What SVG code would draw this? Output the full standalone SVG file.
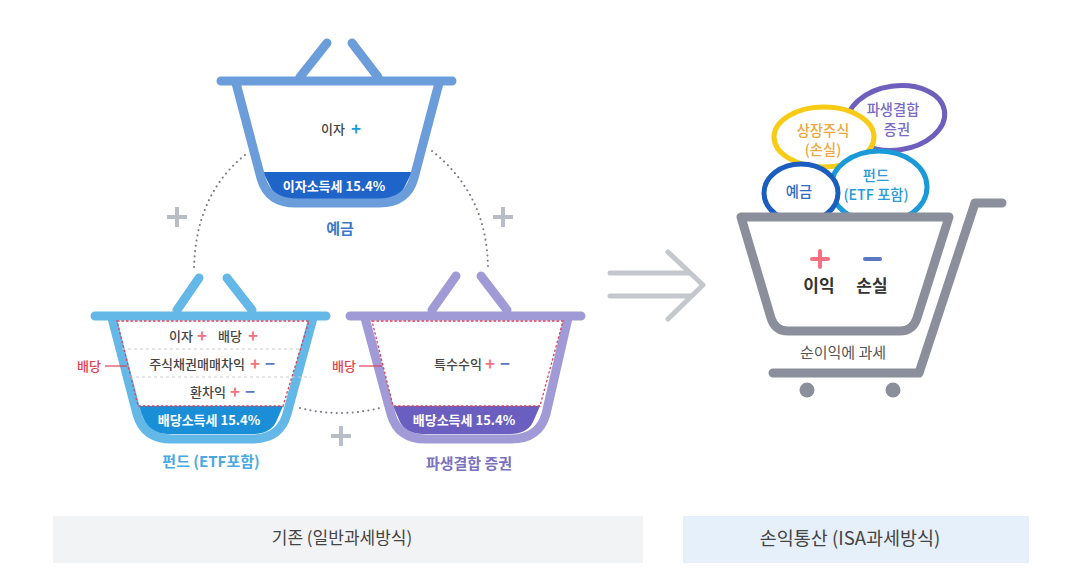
<svg xmlns="http://www.w3.org/2000/svg" width="1080" height="578" viewBox="0 0 1080 578">
<style>
text{font-family:"Noto Sans CJK KR","Noto Sans",sans-serif;text-anchor:middle}
.t{font-size:13px;fill:#444;font-weight:500}
.w{font-size:13px;fill:#fff;font-weight:700}
.r{font-size:13px;fill:#e8404f;font-weight:500}
.p{fill:#f4727f;font-weight:700;font-size:17px}
.m{fill:#5b78c4;font-weight:700;font-size:17px}
.b{fill:none;stroke-width:9;stroke-linecap:round;stroke-linejoin:round}
.red{fill:none;stroke:#e0405a;stroke-width:1.3;stroke-dasharray:2.5 2}
.gd{stroke:#c9ccd0;stroke-width:1;stroke-dasharray:3 3}
.dot{fill:none;stroke:#777c85;stroke-width:2;stroke-linecap:round;stroke-dasharray:0.1 5.2}
.plus{stroke:#b9bdc5;stroke-width:4;fill:none}
.lab{font-size:15px;font-weight:700}
.bar{font-size:17px;fill:#444}
.e{fill:#fff;stroke-width:5}
.cl{font-size:14.3px;font-weight:500}
</style>
<rect x="0" y="0" width="1080" height="578" fill="#fff"/>
<g id="connectors">
<path class="dot" d="M245 155Q195 195 194 270"/>
<path class="dot" d="M432 151Q488 195 488 270"/>
<path class="dot" d="M300 408Q340 418 380 408"/>
<path class="plus" d="M167 217H187M177 207V227M493 217H513M503 207V227M331 436H351M341 426V446"/>
<path d="M610 273H690M610 296H690M668 252L703 285L668 319" fill="none" stroke="#c4c7cc" stroke-width="5" stroke-linecap="round" stroke-linejoin="round"/>
</g>
<g id="basket-deposit">
<path d="M263 172H412L404 188Q398 199 382 199H293Q277 199 271 188Z" fill="#1f64c8"/>
<path class="b" stroke="#6b9ddb" d="M221 81H452M300 77L327 43M352 43L378 77M236 83L261 178Q268 203 296 203H379Q407 203 414 178L439 83"/>
<text class="t" x="333" y="134">이자</text><text x="356" y="135" class="p" style="fill:#1a9ad8">+</text>
<text class="w" x="334" y="191">이자소득세 15.4%</text>
<text class="lab" x="340" y="234" fill="#3b78cc">예금</text>
</g>
<g id="basket-fund">
<path d="M138 406H283L276 422Q270 434 253 434H168Q151 434 145 422Z" fill="#1a8fd8"/>
<path class="b" stroke="#63b8e8" d="M95 316H326M177 310L199 278M227 278L252 310M112 318L137 414Q144 439 172 439H252Q280 439 287 414L313 318"/>
<path class="red" d="M117 321H309L283 406H138Z"/>
<path class="gd" d="M122 349H300M130 377H311"/>
<path d="M105 366H127" stroke="#e0405a" stroke-width="1.2"/>
<text class="r" x="89" y="371">배당</text>
<text class="t" x="181" y="341">이자</text><text class="p" x="202" y="342">+</text>
<text class="t" x="230" y="341">배당</text><text class="p" x="253" y="342">+</text>
<text class="t" x="197" y="369">주식채권매매차익</text><text x="255" y="370" class="p">+</text><text x="270" y="370" class="m">−</text>
<text class="t" x="208" y="397">환차익</text><text x="235" y="398" class="p">+</text><text x="250" y="398" class="m">−</text>
<text class="w" x="209" y="425">배당소득세 15.4%</text>
<text class="lab" x="211" y="467" fill="#4aa9e0">펀드 (ETF포함)</text>
</g>
<g id="basket-derivative">
<path d="M393 406H540L533 422Q527 434 510 434H423Q406 434 400 422Z" fill="#6a5fc0"/>
<path class="b" stroke="#a09bd6" d="M350 316H581M432 310L456 276M481 276L507 310M365 318L391 414Q398 439 426 439H511Q539 439 546 414L568 318"/>
<path class="red" d="M372 321H563L540 406H393Z"/>
<path d="M359 366H382" stroke="#e0405a" stroke-width="1.2"/>
<text class="r" x="344" y="371">배당</text>
<text class="t" x="458" y="369">특수수익</text><text class="p" x="490" y="370">+</text><text class="m" x="505" y="370">−</text>
<text class="w" x="464" y="425">배당소득세 15.4%</text>
<text class="lab" x="469" y="469" fill="#7a72c0">파생결합 증권</text>
</g>
<g id="cart">
<ellipse class="e" cx="896" cy="118" rx="49" ry="32" transform="rotate(-8 896 118)" stroke="#6f5fbc"/>
<text class="cl" x="893" y="115" fill="#7a6cc4">파생결합</text><text class="cl" x="897" y="135" fill="#7a6cc4">증권</text>
<ellipse class="e" cx="824" cy="137" rx="50" ry="30" stroke="#f7cb16"/>
<text class="cl" x="823" y="136" fill="#f0a63a">상장주식</text><text class="cl" x="823" y="155" fill="#f0a63a">(손실)</text>
<ellipse class="e" cx="879" cy="187" rx="48" ry="36" stroke="#1a9ad8"/>
<text class="cl" x="876" y="181" fill="#2a9ad8">펀드</text><text class="cl" x="876" y="200" fill="#2a9ad8">(ETF 포함)</text>
<ellipse class="e" cx="801" cy="193" rx="37" ry="29" stroke="#1a5ec0"/>
<text class="cl" x="799" y="197" fill="#2a6cc8">예금</text>
<path d="M741 217H949L917 318Q913 331 900 331H788Q775 331 771 318Z" fill="#fff" stroke="#8b8f9b" stroke-width="9" stroke-linejoin="round"/>
<path d="M1002 203H975L919 373H773" class="b" stroke="#8b8f9b"/>
<circle cx="807" cy="390" r="7.5" fill="#8b8f9b"/><circle cx="893" cy="390" r="7.5" fill="#8b8f9b"/>
<path d="M812 259H828M820 251V267" stroke="#f4727f" stroke-width="4" stroke-linecap="round"/>
<path d="M865 259H880" stroke="#5b78c4" stroke-width="4" stroke-linecap="round"/>
<text x="819" y="292" font-size="17" font-weight="700" fill="#333">이익</text>
<text x="872" y="292" font-size="17" font-weight="700" fill="#333">손실</text>
<text x="843" y="358" font-size="15" fill="#555">순이익에 과세</text>
</g>
<g id="bar-left"><rect x="53" y="516" width="590" height="47" fill="#f2f3f5"/><text class="bar" x="342" y="544">기존 (일반과세방식)</text></g>
<g id="bar-right"><rect x="683" y="516" width="346" height="47" fill="#e6f0fa"/><text class="bar" style="font-size:18.5px" x="850" y="545">손익통산 (ISA과세방식)</text></g>
</svg>
